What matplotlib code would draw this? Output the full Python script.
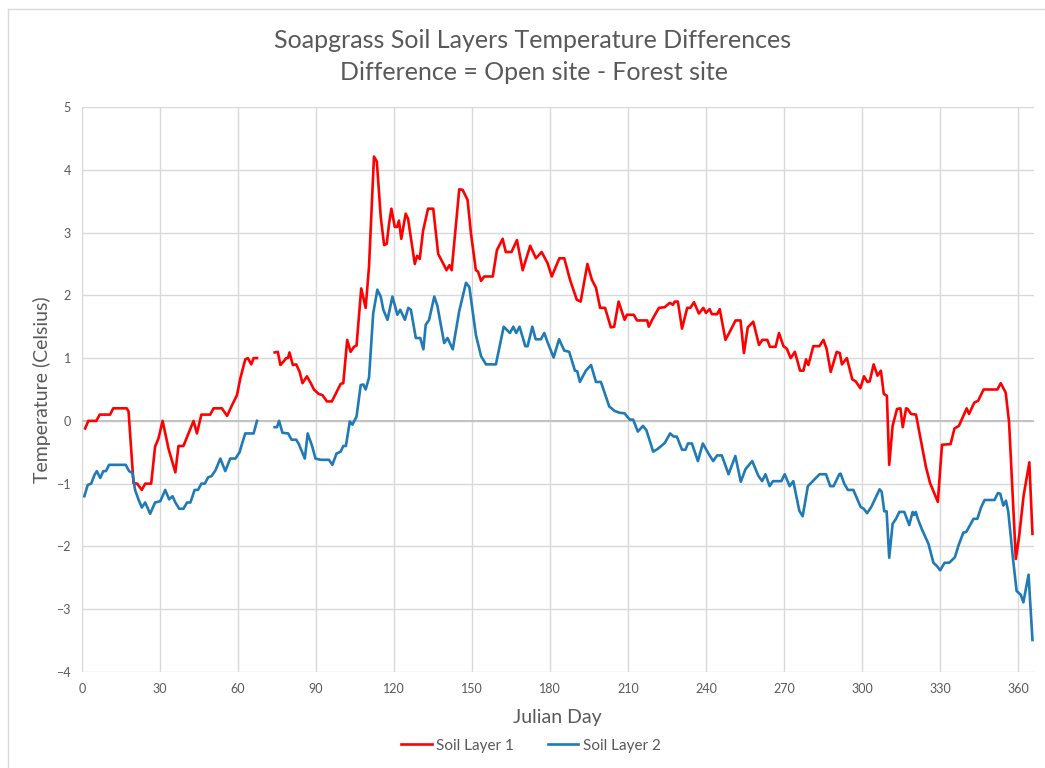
import numpy as np
import matplotlib
matplotlib.use("Agg")
import matplotlib.pyplot as plt
from matplotlib.lines import Line2D

# ---- data ----
layer1_day = [1.2, 2.4, 5.5, 6.8, 10.8, 12, 17.2, 17.9, 19.8, 21.2, 23, 24.3, 26.6, 28.1, 29.4, 31,
              33.3, 35.9, 37.1, 39, 42.9, 44.2, 45.9, 49.3, 50.6, 53.8, 55.8, 57.7, 59.6, 60.9, 62.8,
              63.8, 65.1, 66, 67.3, 70,
              74.1, 75.3, 76.3, 77.6, 78.5, 79.2, 79.8, 81.1, 82.4, 83.7, 84.8, 86.5, 88, 89.2, 91,
              92.5, 94.2, 96.1, 99.5, 100.5, 102, 103.3, 104.6, 105.6, 107.4, 109.1, 110.4, 112.3,
              113.4, 114.9, 116.2, 117.2, 118.1, 119, 120.3, 121.2, 121.9, 122.8, 124.5, 125.4, 128,
              128.9, 129.9, 131.2, 133.1, 135.1, 137, 139, 140.2, 141.3, 142.2, 145.1, 146.4, 148.3,
              149.6, 151.5, 152.3, 153.5, 154.7, 158, 159.6, 161.8, 163, 165.2, 167.3, 169.5, 172.4,
              174.6, 176.8, 179.1, 180.7, 183.6, 185.5, 187.7, 190.3, 191.8, 194.4, 196.1, 197.7,
              199.3, 201.2, 203.4, 204.7, 206.4, 208.7, 209.6, 212.2, 213.5, 217.4, 218, 219.3,
              221.9, 224.1, 226.1, 227.3, 228, 229.2, 230.8, 232.8, 234, 235.4, 237.3, 239, 240,
              241.4, 242.3, 244.3, 245.3, 247.5, 248.8, 251.4, 253.3, 254.6, 256.1, 258.2, 260.4,
              261.7, 263.6, 264.6, 266.8, 268.1, 269.8, 271.1, 272.6, 274.2, 276.2, 277.5, 278.5,
              279.4, 281.3, 283.6, 285.2, 286.4, 288, 290.3, 291.5, 292.3, 294.2, 296.3, 297.6,
              299.4, 300.8, 302.1, 303, 304.5, 306, 307.3, 308.4, 309.6, 310.5, 311.8, 313.5, 314.8,
              315.7, 317, 317.6, 318.9, 320.8, 324.6, 326.2, 329.2, 330.8, 334.1, 335.6, 337.3,
              340.3, 341.2, 343.2, 344.7, 346.8, 352.1, 353.4, 355.3, 356.6, 359.2, 360.5, 362.2,
              364.4, 365.6]
layer1_temp = [-0.12, 0.0, 0.0, 0.1, 0.1, 0.2, 0.2, 0.15, -0.99, -1.0, -1.1, -1.0, -1.0, -0.41, -0.28, 0.0,
               -0.45, -0.82, -0.4, -0.4, 0.0, -0.2, 0.1, 0.1, 0.2, 0.2, 0.08, 0.25, 0.41, 0.68, 0.98,
               1.0, 0.9, 1.0, 1.0, np.nan,
               1.09, 1.1, 0.89, 0.95, 1.0, 1.0, 1.09, 0.89, 0.9, 0.78, 0.6, 0.71, 0.6, 0.5, 0.43,
               0.41, 0.31, 0.31, 0.59, 0.6, 1.29, 1.1, 1.18, 1.2, 2.11, 1.8, 2.46, 4.21,
               4.13, 3.25, 2.8, 2.82, 3.14, 3.38, 3.09, 3.09, 3.19, 2.9, 3.3, 3.22, 2.5,
               2.63, 2.58, 3.03, 3.38, 3.38, 2.66, 2.5, 2.4, 2.48, 2.4, 3.69, 3.68, 3.52,
               2.99, 2.4, 2.38, 2.23, 2.3, 2.3, 2.72, 2.9, 2.69, 2.69, 2.88, 2.4, 2.79,
               2.59, 2.69, 2.51, 2.3, 2.59, 2.59, 2.25, 1.93, 1.9, 2.5, 2.25, 2.12,
               1.8, 1.8, 1.49, 1.5, 1.9, 1.61, 1.69, 1.69, 1.6, 1.6, 1.5, 1.61,
               1.8, 1.81, 1.88, 1.85, 1.9, 1.9, 1.47, 1.8, 1.8, 1.89, 1.71, 1.8, 1.72,
               1.78, 1.7, 1.7, 1.78, 1.29, 1.39, 1.6, 1.6, 1.08, 1.49, 1.58, 1.21,
               1.29, 1.29, 1.18, 1.18, 1.4, 1.19, 1.15, 1.0, 1.1, 0.8, 0.8, 0.98,
               0.89, 1.19, 1.19, 1.29, 1.15, 0.78, 1.1, 1.08, 0.9, 1.0, 0.66, 0.63,
               0.52, 0.71, 0.62, 0.63, 0.9, 0.72, 0.8, 0.43, 0.4, -0.7, -0.08, 0.19, 0.2,
               -0.1, 0.2, 0.19, 0.11, 0.1, -0.73, -0.99, -1.29, -0.38, -0.37, -0.12, -0.08,
               0.2, 0.11, 0.29, 0.32, 0.5, 0.5, 0.6, 0.45, -0.02, -2.2, -1.83, -1.19,
               -0.66, -1.8]

layer2_day = [0.9, 2.2, 3.5, 4.8, 5.7, 7, 8.2, 9.2, 10.4, 16.8, 18.1, 19.4, 20.4, 21.7, 23, 24.3, 26.2,
              28.1, 30.1, 32, 33.5, 34.8, 35.9, 37.4, 39, 40.4, 41.7, 43.3, 44.6, 45.9, 47.2, 48.5,
              49.8, 51.3, 53.2, 55.1, 57, 59, 60.6, 61.5, 62.8, 66, 67.3, 70,
              74.1, 75, 75.8, 77.1, 79.3, 80.6, 82.4, 83.4, 85.7, 86.8, 88.5, 89.8, 91.8, 95, 96.3,
              97.9, 99.5, 100.5, 101.5, 103, 104, 105.6, 107.2, 108.2, 109.1, 110.4, 112, 113.6,
              114.9, 115.9, 117.5, 119.4, 121.3, 122.4, 124.2, 125.5, 126.5, 128.4, 130.1, 131.3,
              132.2, 133.5, 135.5, 136.7, 139.3, 140.6, 142.6, 145.1, 147.7, 149, 151.5, 153.5,
              155.4, 159.2, 162.2, 164.6, 165.9, 167, 168.3, 170.5, 171.4, 173.2, 174.5, 176.5,
              177.8, 179.1, 181.4, 183.5, 185.5, 187.4, 189.6, 190.5, 191.5, 193.8, 195.8, 197.7,
              199.6, 202.8, 204.8, 206.7, 208.7, 210.7, 212, 213.8, 215.8, 217.1, 219.7, 221.3,
              222.8, 224.2, 226.2, 227.6, 228.8, 230.8, 232.1, 233.1, 234.6, 236.9, 238.8, 241.1,
              242.8, 244.3, 246.1, 248.7, 251.3, 253.4, 255.2, 257.8, 260.1, 261.6, 262.9, 264.5,
              265.8, 269, 270.3, 272.2, 273.6, 275.9, 277.2, 279.2, 281.1, 283.7, 286.2, 287.8,
              289.1, 291.3, 291.8, 293.2, 294.6, 296.7, 299.5, 300.7, 302, 303.6, 306.8, 307.6,
              308.6, 309.5, 310.5, 311.8, 313.1, 314.4, 316.3, 318.2, 319.5, 320.1, 320.7, 321.5,
              323, 325.6, 327.5, 328.8, 330.1, 331.8, 333.6, 335.8, 337.1, 339, 340.1, 341.6,
              342.9, 344.4, 345.9, 347.2, 351, 352.3, 353.2, 354.4, 355.4, 356.3, 358.2, 359.5,
              361.1, 362.1, 364.1, 365.6]
layer2_temp = [-1.2, -1.02, -1.0, -0.86, -0.8, -0.91, -0.8, -0.8, -0.7, -0.7, -0.8, -0.83, -1.1, -1.25,
               -1.38, -1.3, -1.48, -1.3, -1.28, -1.1, -1.25, -1.2, -1.3, -1.4, -1.4, -1.3, -1.3, -1.1,
               -1.1, -1.0, -1.0, -0.9, -0.88, -0.79, -0.6, -0.8, -0.6, -0.6, -0.5, -0.37, -0.2, -0.2,
               0.0, np.nan,
               -0.1, -0.1, 0.0, -0.19, -0.2, -0.3, -0.3, -0.37, -0.6, -0.2, -0.4, -0.6, -0.62, -0.62,
               -0.7, -0.52, -0.49, -0.4, -0.4, -0.01, -0.06, 0.07, 0.57, 0.58, 0.5, 0.69, 1.71, 2.09,
               1.98, 1.77, 1.61, 1.98, 1.69, 1.77, 1.61, 1.8, 1.77, 1.32, 1.32, 1.14,
               1.53, 1.61, 1.98, 1.83, 1.24, 1.32, 1.14, 1.75, 2.2, 2.13, 1.37, 1.03,
               0.9, 0.9, 1.5, 1.4, 1.5, 1.4, 1.5, 1.19, 1.19, 1.5, 1.3, 1.3,
               1.4, 1.25, 1.01, 1.3, 1.12, 1.1, 0.8, 0.79, 0.62, 0.8, 0.89, 0.62,
               0.62, 0.23, 0.16, 0.13, 0.12, 0.02, 0.02, -0.17, -0.08, -0.15, -0.49, -0.45,
               -0.4, -0.35, -0.2, -0.25, -0.25, -0.46, -0.46, -0.36, -0.36, -0.64, -0.36, -0.53,
               -0.64, -0.55, -0.55, -0.85, -0.56, -0.97, -0.77, -0.64, -0.87, -0.96, -0.85, -1.04,
               -0.96, -0.96, -0.85, -1.04, -0.96, -1.43, -1.52, -1.04, -0.96, -0.85, -0.85, -1.04,
               -1.04, -0.85, -0.84, -1.0, -1.1, -1.1, -1.37, -1.4, -1.47, -1.37, -1.09, -1.13,
               -1.44, -1.44, -2.18, -1.64, -1.56, -1.45, -1.45, -1.66, -1.45, -1.5, -1.45, -1.56,
               -1.72, -1.96, -2.26, -2.31, -2.38, -2.26, -2.26, -2.17, -1.99, -1.78, -1.77, -1.66,
               -1.56, -1.56, -1.37, -1.26, -1.26, -1.15, -1.16, -1.35, -1.27, -1.45, -2.23, -2.71,
               -2.77, -2.89, -2.45, -3.49]

series_names = ["Soil Layer 1", "Soil Layer 2"]
x_ticks = list(range(0, 361, 30))
y_ticks = list(range(-4, 6))

title_lines = ["Soapgrass Soil Layers Temperature Differences",
               "Difference = Open site - Forest site"]
x_label = "Julian Day"
y_label = "Temperature (Celsius)"

# ---- styling ----
plt.rcParams['font.family'] = ['Lato', 'DejaVu Sans']
txt_col = '#595959'
red = '#ff0000'
blue = '#1f7ab5'

fig = plt.figure(figsize=(10.45, 7.68), dpi=100)
# chart-area border (only top and left edges are visible in the reference)
bx, by = 8 / 1045, 1 - 9 / 768
fig.add_artist(Line2D([bx, 1.0], [by, by], transform=fig.transFigure, color='#d9d9d9', lw=1.0))
fig.add_artist(Line2D([bx, bx], [0.0, by], transform=fig.transFigure, color='#d9d9d9', lw=1.0))

ax = fig.add_axes([0.0785, 0.125, 0.9105, 0.7357])
ax.plot(layer1_day, layer1_temp, color=red, lw=1.9, label=series_names[0], solid_joinstyle='round')
ax.plot(layer2_day, layer2_temp, color=blue, lw=1.9, label=series_names[1], solid_joinstyle='round')

ax.set_xlim(0, 366)
ax.set_ylim(-4, 5)
ax.set_xticks(x_ticks)
ax.set_yticks(y_ticks)
ax.grid(True, color='#d9d9d9', lw=1.0)
ax.set_axisbelow(True)
ax.axhline(0, color='#bfbfbf', lw=1.3, zorder=1)
for s in ax.spines.values():
    s.set_visible(False)
ax.tick_params(length=0, labelsize=9, labelcolor=txt_col, pad=8)

ax.set_xlabel(x_label, fontsize=14, color=txt_col, labelpad=10)
ax.set_ylabel(y_label, fontsize=14, color=txt_col, labelpad=4)
fig.text(0.510, 1 - 40 / 768, title_lines[0], ha='center', va='center', fontsize=18, color=txt_col)
fig.text(0.511, 1 - 73 / 768, title_lines[1], ha='center', va='center', fontsize=18, color=txt_col)

leg = fig.legend(loc='center', bbox_to_anchor=(0.508, 0.029), ncol=2, frameon=False,
                 fontsize=11, handlelength=2.0, handletextpad=0.3, columnspacing=2.2)
for t in leg.get_texts():
    t.set_color(txt_col)

fig.savefig('out.png', dpi=100)
